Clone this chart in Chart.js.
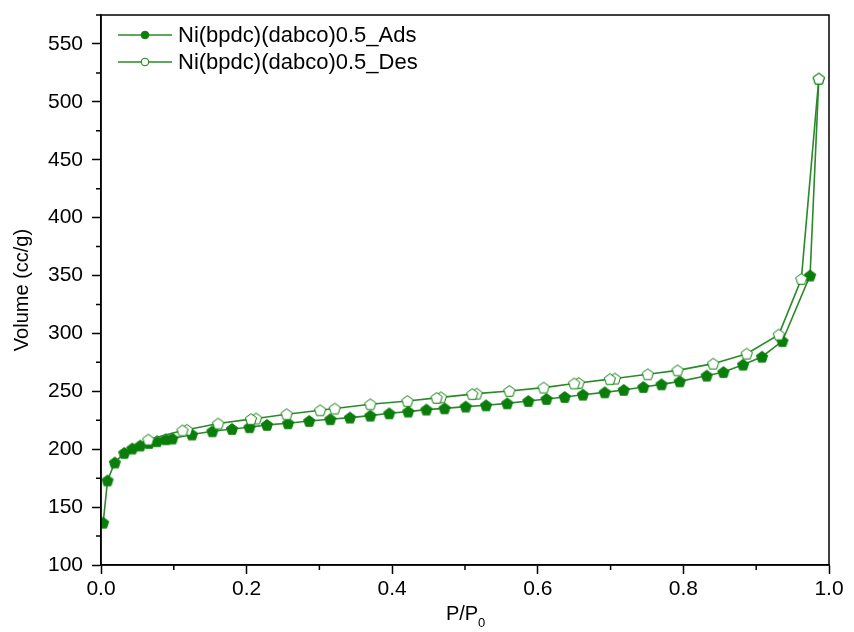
<!DOCTYPE html>
<html>
<head>
<meta charset="utf-8">
<script src="https://cdn.jsdelivr.net/npm/chart.js@4"></script>
<style>
  html, body { margin: 0; padding: 0; background: #fff; }
  #wrap { width: 854px; height: 632px; position: relative; }
</style>
</head>
<body>
<div id="wrap"><canvas id="iso-chart"></canvas></div>
<script>
// adsorption branch
var adsP = [0.003, 0.009, 0.019, 0.032, 0.043, 0.054, 0.066, 0.077, 0.089, 0.098, 0.125, 0.153, 0.180, 0.204, 0.228, 0.257, 0.286, 0.315, 0.342, 0.370, 0.396, 0.422, 0.447, 0.472, 0.501, 0.529, 0.558, 0.587, 0.612, 0.637, 0.662, 0.692, 0.718, 0.745, 0.770, 0.795, 0.832, 0.855, 0.882, 0.908, 0.936, 0.974, 0.986];
var adsV = [136.5, 173, 188.5, 196.8, 200.6, 203.2, 205.4, 206.9, 208.6, 209.2, 212.7, 215.5, 217.5, 219, 221, 222.4, 224.4, 225.9, 227.3, 229, 231, 232.5, 234.2, 235.3, 236.8, 237.9, 239.6, 241.6, 243.4, 245.1, 247.1, 249.1, 251.2, 253.7, 256, 258.6, 263.5, 266.6, 273, 279.9, 293.4, 350, 520];

// desorption branch (high -> low pressure)
var desP = [0.986, 0.962, 0.931, 0.887, 0.841, 0.792, 0.751, 0.706, 0.699, 0.656, 0.650, 0.608, 0.561, 0.516, 0.510, 0.467, 0.461, 0.421, 0.370, 0.321, 0.301, 0.255, 0.213, 0.206, 0.161, 0.118, 0.112, 0.065];
var desV = [520, 347, 299, 282.5, 273.9, 268.1, 264.7, 261, 260.5, 257.2, 256.8, 253.2, 250.3, 248, 247.6, 244.8, 244.3, 241.6, 238.8, 235.1, 233.6, 230.2, 226.5, 226, 222.2, 216.8, 216.2, 208.3];

var seriesNames = ['Ni(bpdc)(dabco)0.5_Ads', 'Ni(bpdc)(dabco)0.5_Des'];
var xTicks = [0, 0.2, 0.4, 0.6, 0.8, 1.0];
var xMinor = [0.1, 0.3, 0.5, 0.7, 0.9];
var yTicks = [100, 150, 200, 250, 300, 350, 400, 450, 500, 550];
var yMinor = [125, 175, 225, 275, 325, 375, 425, 475, 525, 575];

var green = '#0b7d0b';
var lineGreen = '#2a8a2a';
var font = "'Liberation Sans', Arial, sans-serif";

function pentagon(fill, stroke) {
	var c = document.createElement('canvas');
	c.width = 16; c.height = 16;
	var g = c.getContext('2d');
	var r = 5.9;
	g.beginPath();
	for (var i = 0; i < 5; i++) {
		var a = -Math.PI / 2 + i * 2 * Math.PI / 5;
		var px = 8 + r * Math.cos(a), py = 8.5 + r * Math.sin(a);
		if (i === 0) g.moveTo(px, py); else g.lineTo(px, py);
	}
	g.closePath();
	g.fillStyle = fill;
	g.fill();
	g.lineWidth = 1;
	g.strokeStyle = stroke;
	g.stroke();
	return c;
}

function toPoints(xs, ys) {
	return xs.map(function (x, i) { return {x: x, y: ys[i]}; });
}

// frame, minor ticks, legend and x title
var decor = {
	id: 'decor',
	afterDraw: function (chart) {
		var ctx = chart.ctx, a = chart.chartArea;
		var xs = chart.scales.x, ys = chart.scales.y;
		ctx.save();
		ctx.strokeStyle = '#000';
		ctx.lineWidth = 1.5;
		ctx.strokeRect(a.left, a.top, a.right - a.left, a.bottom - a.top);

		ctx.beginPath();
		yMinor.forEach(function (v) {
			var p = ys.getPixelForValue(v);
			ctx.moveTo(a.left - 5, p); ctx.lineTo(a.left, p);
		});
		xMinor.forEach(function (v) {
			var p = xs.getPixelForValue(v);
			ctx.moveTo(p, a.bottom); ctx.lineTo(p, a.bottom + 5);
		});
		ctx.stroke();

		// legend
		ctx.font = '22px ' + font;
		ctx.textBaseline = 'middle';
		ctx.fillStyle = '#000';
		seriesNames.forEach(function (name, i) {
			var y = a.top + 20 + i * 27;
			ctx.strokeStyle = lineGreen;
			ctx.lineWidth = 1.5;
			ctx.beginPath();
			ctx.moveTo(a.left + 17, y); ctx.lineTo(a.left + 71, y);
			ctx.stroke();
			ctx.beginPath();
			ctx.arc(a.left + 44, y, 3.8, 0, Math.PI * 2);
			ctx.fillStyle = i === 0 ? green : '#fff';
			ctx.fill();
			ctx.lineWidth = 1;
			ctx.strokeStyle = green;
			ctx.stroke();
			ctx.fillStyle = '#000';
			ctx.textAlign = 'left';
			ctx.fillText(name, a.left + 77, y + 1);
		});

		// x title P/P0
		var cx = (a.left + a.right) / 2;
		ctx.font = '20px ' + font;
		ctx.textAlign = 'left';
		ctx.textBaseline = 'alphabetic';
		var w = ctx.measureText('P/P').width;
		ctx.fillText('P/P', cx - w / 2 - 3, 620);
		ctx.font = '13px ' + font;
		ctx.fillText('0', cx + w / 2 - 3, 627);
		ctx.restore();
	}
};

new Chart('iso-chart', {
	type: 'scatter',
	data: {
		datasets: [
			{
				label: seriesNames[0],
				data: toPoints(adsP, adsV),
				showLine: true,
				borderColor: lineGreen,
				borderWidth: 1.6,
				pointStyle: pentagon(green, green),
				pointRadius: 6,
				tension: 0,
				order: 2
			},
			{
				label: seriesNames[1],
				data: toPoints(desP, desV),
				showLine: true,
				borderColor: lineGreen,
				borderWidth: 1.6,
				pointStyle: pentagon('#fff', green),
				pointRadius: 6,
				tension: 0,
				order: 1
			}
		]
	},
	options: {
		responsive: true,
		maintainAspectRatio: false,
		animation: false,
		layout: { padding: { top: 15, right: 25, left: 0, bottom: 0 } },
		plugins: {
			legend: { display: false },
			tooltip: { enabled: false }
		},
		scales: {
			x: {
				type: 'linear',
				min: 0,
				max: 1,
				afterFit: function (s) { s.height = 67; s.paddingLeft = 0; s.paddingRight = 0; },
				afterBuildTicks: function (s) { s.ticks = xTicks.map(function (v) { return {value: v}; }); },
				ticks: {
					color: '#000',
					padding: 3,
					font: { family: font, size: 21 },
					callback: function (v) { return v.toFixed(1); }
				},
				grid: { drawOnChartArea: false, drawTicks: true, tickLength: 9, tickColor: '#000', tickWidth: 1.5 },
				border: { color: '#000', width: 1.5 }
			},
			y: {
				type: 'linear',
				min: 100,
				max: 575,
				afterFit: function (s) { s.width = 101; s.paddingTop = 0; s.paddingBottom = 0; },
				afterBuildTicks: function (s) { s.ticks = yTicks.map(function (v) { return {value: v}; }); },
				ticks: {
					color: '#000',
					padding: 9,
					font: { family: font, size: 21 }
				},
				title: {
					display: true,
					text: 'Volume (cc/g)',
					color: '#000',
					font: { family: font, size: 20 },
					padding: { top: 10, bottom: 0 }
				},
				grid: { drawOnChartArea: false, drawTicks: true, tickLength: 9, tickColor: '#000', tickWidth: 1.5 },
				border: { color: '#000', width: 1.5 }
			}
		}
	},
	plugins: [decor]
});
</script>
</body>
</html>
